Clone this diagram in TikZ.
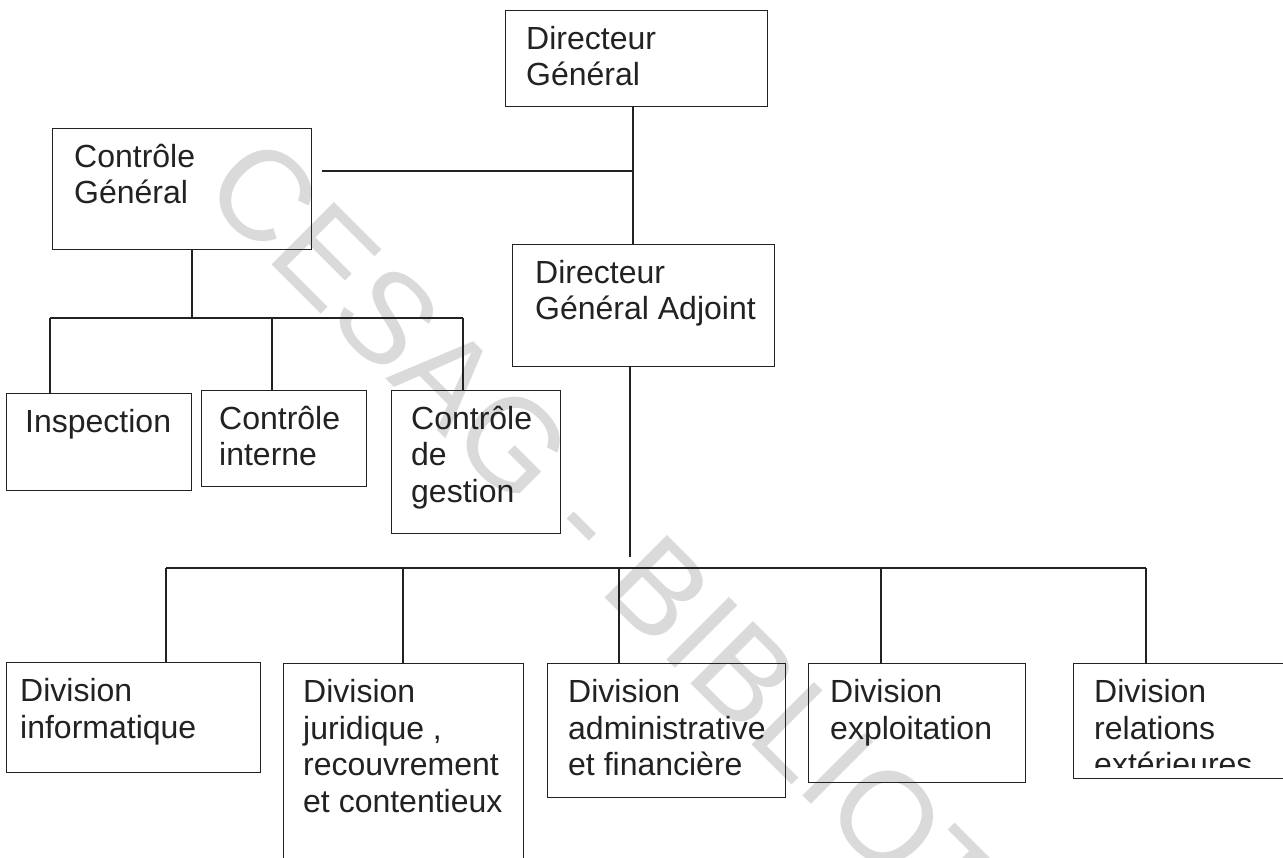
\documentclass[tikz,border=0pt]{standalone}
\usepackage{fontspec}
\setmainfont{Liberation Sans}
\usetikzlibrary{calc}
\definecolor{ink}{HTML}{222222}
\definecolor{wmgray}{HTML}{DADADA}
\newcommand\lblfont{\fontsize{32}{36.8}\selectfont}
\newcommand\firstline{\rule{0pt}{30pt}}
% name, x1, y1, x2, y2, left padding, label
\newcommand\unitbox[7]{%
  \node[orgbox, minimum width={(#4-#2)*1pt}, minimum height={(#5-#3)*1pt}] (#1) at (#2,#3) {};
  \node[lbl] (#1-text) at ($(#1.north west)+(#6,9)$) {\firstline #7};
}

\begin{document}
\begin{tikzpicture}[x=1pt,y=-1pt,
  orgbox/.style={draw=ink, line width=1.4pt, rectangle, inner sep=0pt, anchor=north west},
  lbl/.style={anchor=north west, inner sep=0pt, align=left, font=\lblfont, text=ink},
  link/.style={draw=ink, line width=1.3pt}]
\useasboundingbox (0,0) rectangle (1283,858);
\clip (0,0) rectangle (1283,858);
\fill[white] (0,0) rectangle (1283,858);

% library stamp across the page
\node[anchor=base west, rotate=-45, inner sep=0pt, text=wmgray,
      font=\fontsize{128.5}{128.5}\selectfont] (stamp) at (199,192) {CESAG - BIBLIOTHEQUE};

% junction points of the connectors
\coordinate (jTop) at (633,171);
\coordinate (cgEnd) at (322,171);
\coordinate (cgDrop) at (192,318);
\coordinate (barL) at (50,318);
\coordinate (barM) at (272,318);
\coordinate (barR) at (463,318);
\coordinate (dgaEnd) at (630,557);
\coordinate (busL) at (166,568);
\coordinate (bus2) at (403,568);
\coordinate (bus3) at (619,568);
\coordinate (bus4) at (881,568);
\coordinate (busR) at (1146,568);

% top management
\unitbox{dg}{505}{10}{767}{106}{21}{Directeur\\Général}
\unitbox{cg}{52}{128}{311}{249}{22}{Contrôle\\Général}
\unitbox{dga}{512}{244}{774}{366}{23}{Directeur\\Général Adjoint}

% control units
\unitbox{insp}{6}{393}{191}{490}{19}{Inspection}
\unitbox{ci}{201}{390}{366}{486}{18}{Contrôle\\interne}
\unitbox{cdg}{391}{390}{560}{533}{20}{Contrôle\\de\\gestion}

% divisions
\unitbox{dinfo}{6}{662}{260}{772}{14}{Division\\informatique}
\unitbox{djur}{283}{663}{523}{880}{20}{Division\\juridique ,\\recouvrement\\et contentieux}
\unitbox{dadm}{547}{663}{785}{797}{21}{Division\\administrative\\et financière}
\unitbox{dexp}{808}{663}{1025}{782}{22}{Division\\exploitation}
\node[orgbox, minimum width=230pt, minimum height=115pt] (drel) at (1073,663) {};
\begin{scope}
  % the last line is cut by the lower edge of its box
  \clip (1073,663) rectangle (1283,767);
  \node[lbl] (drel-text) at ($(drel.north west)+(21,9)$) {\firstline Division\\relations\\extérieures};
\end{scope}

% connectors
\draw[link] (dg.south -| jTop) -- (dga.north -| jTop);
\draw[link] (cgEnd) -- (jTop);
\draw[link] (cg.south -| cgDrop) -- (cgDrop);
\draw[link] (barL) -- (barR);
\draw[link] (barL) -- (insp.north -| barL);
\draw[link] (barM) -- (ci.north -| barM);
\draw[link] (barR) -- (cdg.north -| barR);
\draw[link] (dga.south -| dgaEnd) -- (dgaEnd);
\draw[link] (busL) -- (busR);
\draw[link] (busL) -- (dinfo.north -| busL);
\draw[link] (bus2) -- (djur.north -| bus2);
\draw[link] (bus3) -- (dadm.north -| bus3);
\draw[link] (bus4) -- (dexp.north -| bus4);
\draw[link] (busR) -- (drel.north -| busR);
\end{tikzpicture}
\end{document}
